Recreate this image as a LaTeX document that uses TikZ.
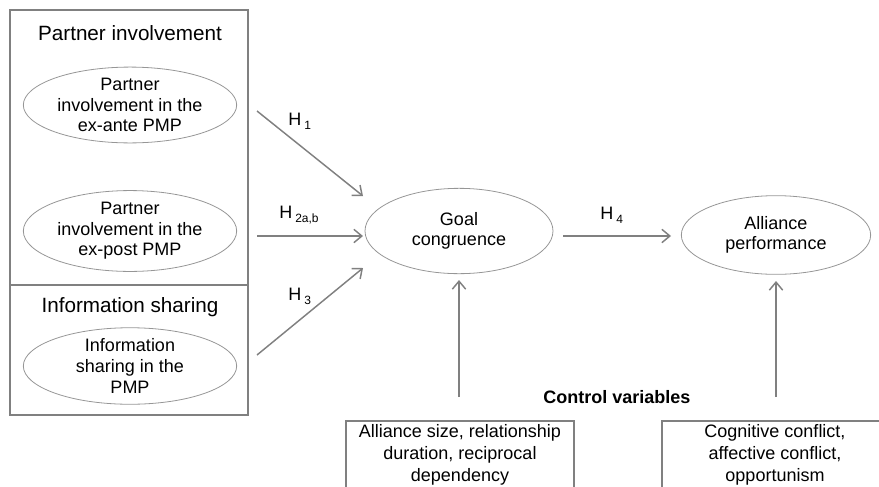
\documentclass[tikz,border=0pt]{standalone}
\usepackage{fontspec}
\setmainfont{Liberation Sans}
\usetikzlibrary{shapes.geometric,arrows.meta}
\definecolor{linegray}{RGB}{128,128,128}
\definecolor{ellgray}{RGB}{150,150,150}
\begin{document}
\begin{tikzpicture}[x=0.75pt,y=-0.75pt,
  every node/.style={font=\fontsize{13.5}{15.4}\selectfont, text=black, inner sep=0pt},
  ell/.style={ellipse, draw=ellgray, line width=0.6pt, align=center},
  arr/.style={draw=linegray, line width=1.1pt, -{Straight Barb[length=6pt,width=10pt,line width=1.1pt]}},
  frame/.style={draw=linegray, line width=1pt},
  title/.style={font=\fontsize{15.5}{18}\selectfont},
  hlab/.style={font=\fontsize{13.5}{15}\selectfont, anchor=base west},
  ctext/.style={align=center, font=\fontsize{13.5}{16.5}\selectfont}]
\useasboundingbox (0,0) rectangle (879,486);
\clip (0,0) rectangle (879,486);

% left frames
\draw[frame] (10,10) rectangle (248,415);
\draw[frame] (10,285) -- (248,285);
\node[title] (t1) at (130,33) {Partner involvement};
\node[title] (t2) at (130,307) {Information sharing};

% ellipses
\node[ell, minimum width=160pt, minimum height=56pt] (e1) at (130,105) {Partner\\involvement in the\\ex-ante PMP};
\node[ell, minimum width=160pt, minimum height=55pt] (e2) at (130,231) {Partner\\involvement in the\\ex-post PMP};
\node[ell, minimum width=160pt, minimum height=54pt] (e3) at (130,366) {Information\\sharing in the\\PMP};
\node[ell, minimum width=141pt, minimum height=64pt] (goal) at (459,231) {Goal\\congruence};
\node[ell, minimum width=142pt, minimum height=59pt] (perf) at (776,235) {Alliance\\performance};

% arrow end points
\coordinate (a1s) at (257,111);
\coordinate (a1e) at (363,196);
\coordinate (a2s) at (257,236);
\coordinate (a2e) at (363,236);
\coordinate (a3s) at (257,355);
\coordinate (a3e) at (363,268);
\coordinate (a4s) at (563,236);
\coordinate (a4e) at (671,236);
\coordinate (c1s) at (459,397);
\coordinate (c1e) at (459,280);
\coordinate (c2s) at (776,397);
\coordinate (c2e) at (776,281);

\draw[arr] (a1s) -- (a1e);
\draw[arr] (a2s) -- (a2e);
\draw[arr] (a3s) -- (a3e);
\draw[arr] (a4s) -- (a4e);
\draw[arr] (c1s) -- (c1e);
\draw[arr] (c2s) -- (c2e);

% hypothesis labels
\node[hlab] (h1) at (288,125) {H\,{\fontsize{9}{10}\selectfont\raisebox{-3pt}{1}}};
\node[hlab] (h2) at (279,218) {H\,{\fontsize{9}{10}\selectfont\raisebox{-3pt}{2a,b}}};
\node[hlab] (h3) at (288,300) {H\,{\fontsize{9}{10}\selectfont\raisebox{-3pt}{3}}};
\node[hlab] (h4) at (600,219) {H\,{\fontsize{9}{10}\selectfont\raisebox{-3pt}{4}}};

% control variables
\node[font=\bfseries\fontsize{13.5}{15}\selectfont] (cv) at (617,397) {Control variables};
\draw[frame, line width=0.8pt] (346,421) rectangle (574,520);
\draw[frame, line width=0.8pt] (662,421) rectangle (895,520);
\node[ctext] (b1) at (460,455) {Alliance size, relationship\\duration, reciprocal\\dependency};
\node[ctext] (b2) at (775,455) {Cognitive conflict,\\affective conflict,\\opportunism};
\end{tikzpicture}
\end{document}
